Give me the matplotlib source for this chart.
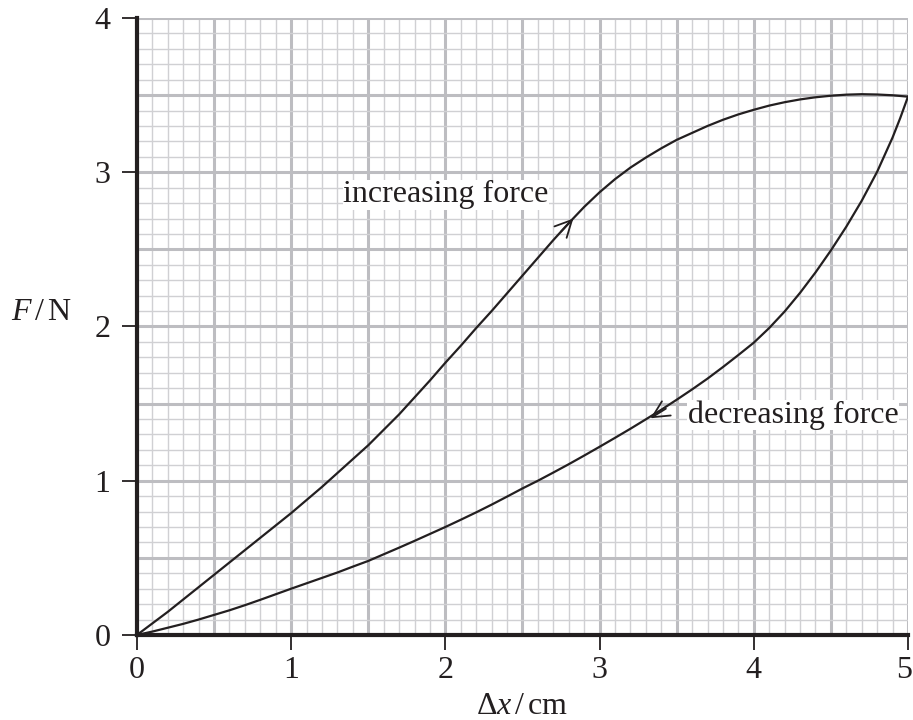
import numpy as np
import matplotlib
matplotlib.use("Agg")
import matplotlib.pyplot as plt
import matplotlib.transforms as mtransforms

plt.rcParams['font.family'] = ['Liberation Serif', 'DejaVu Serif']
plt.rcParams['mathtext.fontset'] = 'custom'
plt.rcParams['mathtext.rm'] = 'Liberation Serif'
plt.rcParams['mathtext.it'] = 'Liberation Serif:italic'

# Data (extension Δx in cm, force F in N)
inc_x = [0.0, 0.1, 0.2, 0.3, 0.4, 0.5, 0.6, 0.7, 0.8, 0.9, 1.0, 1.1, 1.2, 1.3, 1.4,
         1.5, 1.6, 1.7, 1.8, 1.9, 2.0, 2.1, 2.2, 2.3, 2.4, 2.5, 2.6, 2.7, 2.8, 2.9,
         3.0, 3.1, 3.2, 3.3, 3.4, 3.5, 3.6, 3.7, 3.8, 3.9, 4.0, 4.1, 4.2, 4.3, 4.4,
         4.5, 4.6, 4.7, 4.8, 4.9, 5.0]
inc_f = [0.0, 0.075, 0.15, 0.23, 0.31, 0.39, 0.47, 0.55, 0.63, 0.71, 0.79, 0.875,
         0.96, 1.05, 1.14, 1.23, 1.33, 1.43, 1.54, 1.65, 1.765, 1.875, 1.99, 2.10,
         2.215, 2.33, 2.445, 2.56, 2.67, 2.775, 2.87, 2.955, 3.03, 3.095, 3.155,
         3.21, 3.255, 3.30, 3.34, 3.375, 3.405, 3.432, 3.454, 3.472, 3.486, 3.496,
         3.503, 3.506, 3.504, 3.499, 3.49]
dec_x = [0.0, 0.1, 0.2, 0.3, 0.4, 0.5, 0.6, 0.7, 0.8, 0.9, 1.0, 1.1, 1.2, 1.3, 1.4,
         1.5, 1.6, 1.7, 1.8, 1.9, 2.0, 2.1, 2.2, 2.3, 2.4, 2.5, 2.6, 2.7, 2.8, 2.9,
         3.0, 3.1, 3.2, 3.3, 3.4, 3.5, 3.6, 3.7, 3.8, 3.9, 4.0, 4.1, 4.2, 4.3, 4.4,
         4.5, 4.6, 4.7, 4.8, 4.9, 4.95, 5.0]
dec_f = [0.0, 0.022, 0.047, 0.072, 0.10, 0.13, 0.16, 0.193, 0.228, 0.264, 0.30,
         0.335, 0.37, 0.405, 0.443, 0.48, 0.523, 0.566, 0.61, 0.655, 0.70, 0.747,
         0.795, 0.845, 0.897, 0.95, 1.00, 1.053, 1.107, 1.163, 1.22, 1.278, 1.337,
         1.398, 1.46, 1.525, 1.592, 1.662, 1.737, 1.815, 1.895, 1.99, 2.097, 2.218,
         2.35, 2.493, 2.647, 2.815, 3.003, 3.225, 3.352, 3.49]
x_ticks = [0, 1, 2, 3, 4, 5]
y_ticks = [0, 1, 2, 3, 4]

ink = '#231f20'
fig = plt.figure(figsize=(9.13, 7.2), dpi=100)
ax = fig.add_axes([0.150, 0.1181, 0.8445, 0.8569])
ax.set_xlim(0, 5)
ax.set_ylim(0, 4)

# graph paper grid
for i in range(51):
    heavy = (i % 5 == 0)
    ax.axvline(i * 0.1, color='#bdbdc1' if heavy else '#d0d0d3',
               lw=2.2 if heavy else 1.0, zorder=1)
for i in range(41):
    heavy = (i % 5 == 0)
    ax.axhline(i * 0.1, color='#bdbdc1' if heavy else '#d0d0d3',
               lw=2.2 if heavy else 1.0, zorder=1)

ax.plot(inc_x, inc_f, color=ink, lw=1.6, zorder=3, solid_joinstyle='round')
ax.plot(dec_x, dec_f, color=ink, lw=1.6, zorder=3, solid_joinstyle='round')

# arrows
astyle = '->,head_length=0.5,head_width=0.25'
ax.annotate('', xy=(2.83, 2.70), xytext=(2.75, 2.615),
            arrowprops=dict(arrowstyle=astyle, color=ink, lw=1.3,
                            mutation_scale=24, shrinkA=0, shrinkB=0), zorder=4)
ax.annotate('', xy=(3.33, 1.405), xytext=(3.43, 1.467),
            arrowprops=dict(arrowstyle=astyle, color=ink, lw=1.3,
                            mutation_scale=24, shrinkA=0, shrinkB=0), zorder=4)

ax.text(2.004, 2.853, 'increasing force', fontsize=23, color=ink,
        ha='center', va='center', zorder=5,
        bbox=dict(facecolor='white', edgecolor='none', pad=0.5))
ax.text(4.254, 1.426, 'decreasing force', fontsize=23, color=ink,
        ha='center', va='center', zorder=5,
        bbox=dict(facecolor='white', edgecolor='none', pad=0.5))

for s in ['top', 'right']:
    ax.spines[s].set_visible(False)
for s in ['left', 'bottom']:
    ax.spines[s].set_color(ink)
    ax.spines[s].set_linewidth(3.0)
    ax.spines[s].set_zorder(6)

ax.set_xticks(x_ticks)
ax.set_yticks(y_ticks)
ax.set_xticklabels([str(t) for t in x_ticks])
ax.set_yticklabels([str(t) for t in y_ticks])
ax.tick_params(axis='both', direction='out', length=11, width=1.3,
               color=ink, labelsize=23, labelcolor=ink)
ax.tick_params(axis='y', pad=8)
ax.tick_params(axis='x', pad=4)

# nudge the last x tick label so it stays inside the figure
last = ax.get_xticklabels()[-1]
last.set_transform(last.get_transform() +
                   mtransforms.ScaledTranslation(-4 / 100, 0, fig.dpi_scale_trans))

ax.set_xlabel(r'$\Delta x\,/\,\mathrm{cm}$', fontsize=23, color=ink, va='center')
ax.xaxis.set_label_coords(0.5, -(707 - 635) / 617)
fig.text(41 / 913, 1 - 313 / 720, r'$F\,/\,\mathrm{N}$', fontsize=23, color=ink,
         ha='center', va='center')

fig.savefig('out.png', dpi=100)
